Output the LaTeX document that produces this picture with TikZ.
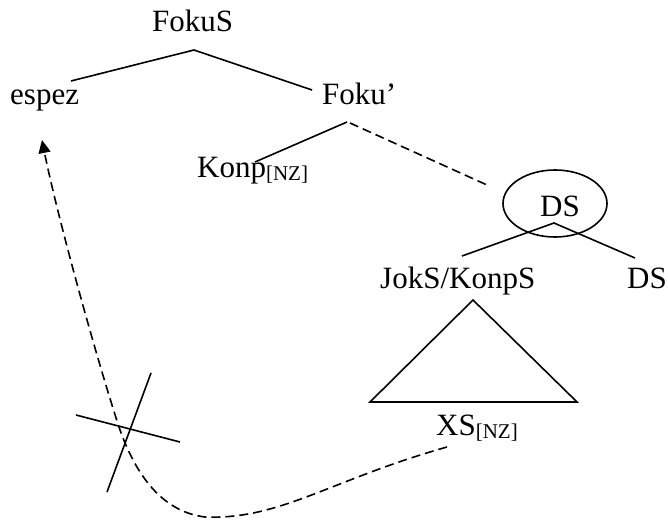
\documentclass[tikz,border=0pt]{standalone}
\usepackage{fontspec}
\setmainfont{Liberation Serif}
\usetikzlibrary{arrows.meta,shapes.geometric}
\newcommand{\subnz}{\raisebox{-3pt}{\fontsize{21}{21}\selectfont[NZ]}}
\tikzset{
  lbl/.style={anchor=base west, inner sep=0pt, font=\fontsize{31}{31}\selectfont},
  branch/.style={line width=1.6pt, line join=miter},
  dashbranch/.style={line width=1.6pt, dash pattern=on 9pt off 5pt},
}
\begin{document}
\begin{tikzpicture}[x=1pt,y=-1pt]
\useasboundingbox (0,0) rectangle (668,521);
% labels
\node[lbl] (fokus) at (152,32) {FokuS};
\node[lbl] (espez) at (10,105) {espez};
\node[lbl] (fokub) at (322,105) {Foku’};
\node[lbl] (konp) at (197,178) {Konp\subnz};
\node[ellipse, draw, line width=1.6pt, minimum width=104pt, minimum height=67pt, inner sep=0pt] (circ) at (555,203.5) {};
\node[lbl] (ds) at (540,216) {DS};
\node[lbl] (jok) at (380,288) {JokS/KonpS};
\node[lbl] (ds2) at (627,288) {DS};
\node[lbl] (xs) at (436,435) {XS\subnz};
% branch points
\coordinate (a1) at (71,81);
\coordinate (a2) at (194,50);
\coordinate (a3) at (312,90);
\coordinate (b1) at (347,122);
\coordinate (b2) at (255,162);
\coordinate (c1) at (350,123);
\coordinate (c2) at (487,185);
\coordinate (d1) at (462,256);
\coordinate (d2) at (554,223);
\coordinate (d3) at (635,258);
\coordinate (t1) at (473,300);
\coordinate (t2) at (370,402);
\coordinate (t3) at (577,402);
\coordinate (x1) at (151,373);
\coordinate (x2) at (107,492);
\coordinate (x3) at (76,415);
\coordinate (x4) at (180,442);
\coordinate (m0) at (447,447);
\coordinate (m1) at (205,517);
\coordinate (m2) at (120,430);
\coordinate (tip) at (42,140);
% tree
\draw[branch] (a1) -- (a2) -- (a3);
\draw[branch] (b1) -- (b2);
\draw[dashbranch] (c1) -- (c2);
\draw[branch] (d1) -- (d2) -- (d3);
\draw[branch] (t1) -- (t2) -- (t3) -- cycle;
% crossed movement
\draw[branch] (x1) -- (x2);
\draw[branch] (x3) -- (x4);
\draw[dashbranch, -{Triangle[length=13pt,width=12pt]}]
  (m0) .. controls (330,480) and (280,520) .. (m1)
       .. controls (165,512) and (138,480) .. (m2)
       .. controls (100,370) and (58,220) .. (tip);
\end{tikzpicture}
\end{document}
